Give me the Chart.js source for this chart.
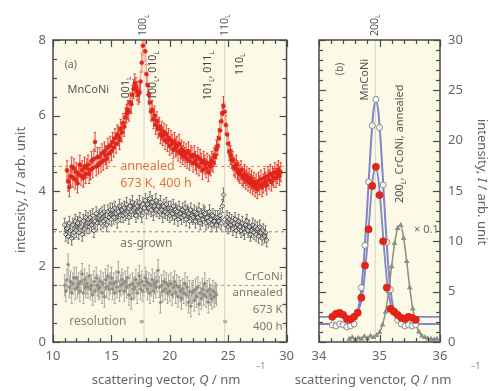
<!DOCTYPE html>
<html>
<head>
<meta charset="utf-8">
<script src="https://cdn.jsdelivr.net/npm/chart.js@4.4.1/dist/chart.umd.min.js"></script>
<style>
  html, body { margin: 0; padding: 0; background: #ffffff; }
  #wrap { position: relative; width: 489px; height: 391px; overflow: hidden; }
  .pane { position: absolute; top: 0; height: 391px; }
  #pa { left: 0; width: 300px; }
  #pb { left: 260px; width: 229px; }
</style>
</head>
<body>
<div id="wrap">
  <div class="pane" id="pa"><canvas id="ca"></canvas></div>
  <div class="pane" id="pb"><canvas id="cb"></canvas></div>
</div>
<script>
// ---------- panel (a): diffuse scattering, Q = 10 ... 30 nm^-1 ----------
const annealedQ = [
  11.2,11.3,11.4,11.5,11.6,11.7,11.8,11.9,
  12.0,12.1,12.2,12.3,12.4,12.5,12.6,12.7,12.8,12.9,
  13.0,13.1,13.2,13.3,13.4,13.5,13.6,13.7,13.8,13.9,
  14.0,14.1,14.2,14.3,14.4,14.5,14.6,14.7,14.8,14.9,
  15.0,15.1,15.2,15.3,15.4,15.5,15.6,15.7,15.8,15.9,
  16.0,16.1,16.2,16.3,16.4,16.5,16.6,16.7,16.8,16.9,
  17.0,17.1,17.2,17.3,17.4,17.5,17.6,17.7,17.8,17.9,
  18.0,18.1,18.2,18.3,18.4,18.5,18.6,18.7,18.8,18.9,
  19.0,19.1,19.2,19.3,19.4,19.5,19.6,19.7,19.8,19.9,
  20.0,20.1,20.2,20.3,20.4,20.5,20.6,20.7,20.8,20.9,
  21.0,21.1,21.2,21.3,21.4,21.5,21.6,21.7,21.8,21.9,
  22.0,22.1,22.2,22.3,22.4,22.5,22.6,22.7,22.8,22.9,
  23.0,23.1,23.2,23.3,23.4,23.5,23.6,23.7,23.8,23.9,
  24.0,24.1,24.2,24.3,24.4,24.5,24.6,24.7,24.8,24.9,
  25.0,25.1,25.2,25.3,25.4,25.5,25.6,25.7,25.8,25.9,
  26.0,26.1,26.2,26.3,26.4,26.5,26.6,26.7,26.8,26.9,
  27.0,27.1,27.2,27.3,27.4,27.5,27.6,27.7,27.8,27.9,
  28.0,28.1,28.2,28.3,28.4,28.5,28.6,28.7,28.8,28.9,
  29.0,29.1,29.2,29.3,29.4,29.5];
const annealedI = [
  4.55,4.25,4.10,4.40,4.65,4.35,4.60,4.30,
  4.50,4.20,4.45,4.70,4.40,4.55,4.35,4.65,4.45,4.60,
  4.70,4.45,4.55,4.80,4.60,4.85,5.30,4.65,4.90,4.70,
  4.90,4.75,5.00,4.80,5.05,4.95,4.85,5.15,5.00,5.20,
  5.05,5.30,5.15,5.40,5.25,5.50,5.45,5.35,5.65,5.55,
  5.80,5.70,5.95,6.05,6.15,6.10,6.35,6.30,6.55,6.70,
  6.85,6.75,6.65,6.55,6.60,6.90,7.40,7.85,8.30,7.70,
  7.10,6.80,6.55,6.35,6.10,6.15,5.90,6.00,5.75,5.85,
  5.65,5.70,5.50,5.60,5.45,5.55,5.35,5.50,5.30,5.40,
  5.20,5.35,5.25,5.10,5.30,5.15,5.20,5.05,5.25,5.00,
  5.10,4.95,5.05,4.90,5.00,4.85,5.05,4.80,4.95,4.90,
  4.75,4.95,4.80,4.70,4.90,4.65,4.85,4.75,4.55,4.80,
  4.70,4.60,4.75,4.50,4.70,4.65,4.80,4.75,4.90,4.95,
  5.10,5.20,5.40,5.60,5.85,6.05,6.25,6.10,5.75,5.50,
  5.25,5.05,4.95,4.85,4.80,4.65,4.60,4.70,4.55,4.50,
  4.45,4.55,4.40,4.35,4.45,4.30,4.40,4.25,4.35,4.20,
  4.30,4.15,4.25,4.10,4.20,4.05,4.25,4.15,4.30,4.10,
  4.20,4.35,4.25,4.15,4.40,4.30,4.45,4.25,4.40,4.35,
  4.50,4.35,4.45,4.55,4.40,4.50];
const annealedErr = 0.25;

const annealedFitQ = [11.2,12,13,14,15,15.6,16,16.4,16.8,17.0,17.3,17.55,17.8,18.05,18.3,18.6,19,19.6,20.4,21.2,
  22,22.8,23.4,23.8,24.1,24.4,24.6,24.8,25.1,25.4,25.8,26.4,27,27.6,28.2,28.8,29.5];
const annealedFitI = [4.45,4.45,4.6,4.85,5.15,5.45,5.75,6.1,6.5,6.7,6.75,7.2,8.1,7.0,6.35,5.95,5.65,5.4,5.15,4.95,
  4.8,4.68,4.68,4.85,5.15,5.75,6.15,5.75,5.05,4.75,4.55,4.4,4.28,4.22,4.28,4.38,4.45];

const asGrownQ = [
  11.0,11.1,11.2,11.3,11.4,11.5,11.6,11.7,11.8,11.9,
  12.0,12.1,12.2,12.3,12.4,12.5,12.6,12.7,12.8,12.9,
  13.0,13.1,13.2,13.3,13.4,13.5,13.6,13.7,13.8,13.9,
  14.0,14.1,14.2,14.3,14.4,14.5,14.6,14.7,14.8,14.9,
  15.0,15.1,15.2,15.3,15.4,15.5,15.6,15.7,15.8,15.9,
  16.0,16.1,16.2,16.3,16.4,16.5,16.6,16.7,16.8,16.9,
  17.0,17.1,17.2,17.3,17.4,17.5,17.6,17.7,17.8,17.9,
  18.0,18.1,18.2,18.3,18.4,18.5,18.6,18.7,18.8,18.9,
  19.0,19.1,19.2,19.3,19.4,19.5,19.6,19.7,19.8,19.9,
  20.0,20.1,20.2,20.3,20.4,20.5,20.6,20.7,20.8,20.9,
  21.0,21.1,21.2,21.3,21.4,21.5,21.6,21.7,21.8,21.9,
  22.0,22.1,22.2,22.3,22.4,22.5,22.6,22.7,22.8,22.9,
  23.0,23.1,23.2,23.3,23.4,23.5,23.6,23.7,23.8,23.9,
  24.0,24.1,24.2,24.3,24.4,24.5,24.6,24.7,24.8,24.9,
  25.0,25.1,25.2,25.3,25.4,25.5,25.6,25.7,25.8,25.9,
  26.0,26.1,26.2,26.3,26.4,26.5,26.6,26.7,26.8,26.9,
  27.0,27.1,27.2,27.3,27.4,27.5,27.6,27.7,27.8,27.9,
  28.0,28.1,28.2,28.3];
const asGrownI = [
  3.10,2.85,3.00,2.80,3.15,2.95,2.75,3.10,2.90,3.20,
  2.95,3.15,2.90,3.25,3.05,2.85,3.20,3.00,3.30,3.05,
  3.25,3.05,3.30,3.10,3.35,2.95,3.20,3.40,3.15,3.30,
  3.35,3.15,3.40,3.20,3.45,3.25,3.10,3.45,3.30,3.50,
  3.25,3.50,3.30,3.55,3.40,3.20,3.45,3.60,3.35,3.50,
  3.35,3.55,3.40,3.65,3.45,3.30,3.60,3.45,3.70,3.50,
  3.55,3.35,3.60,3.45,3.70,3.50,3.35,3.65,3.55,3.75,
  3.45,3.65,3.55,3.80,3.50,3.70,3.40,3.60,3.75,3.50,
  3.60,3.45,3.70,3.50,3.35,3.60,3.45,3.65,3.40,3.55,
  3.35,3.55,3.40,3.60,3.30,3.50,3.45,3.25,3.55,3.40,
  3.30,3.50,3.35,3.55,3.25,3.45,3.40,3.20,3.50,3.35,
  3.30,3.45,3.20,3.40,3.30,3.50,3.15,3.35,3.25,3.45,
  3.40,3.15,3.30,3.20,3.45,3.25,3.10,3.35,3.20,3.30,
  3.10,3.30,3.20,3.35,3.15,3.60,3.90,3.25,3.10,3.30,
  3.05,3.25,3.10,3.20,3.00,3.15,3.25,2.95,3.10,3.20,
  3.05,2.95,3.15,3.00,2.90,3.10,3.20,2.95,3.05,2.85,
  2.95,3.10,2.90,3.05,2.85,3.00,2.80,3.05,2.90,2.75,
  2.95,2.80,2.90,2.70];
const asGrownErr = 0.18;

const crconiQ = [
  11.0,11.1,11.2,11.3,11.4,11.5,11.6,11.7,11.8,11.9,
  12.0,12.1,12.2,12.3,12.4,12.5,12.6,12.7,12.8,12.9,
  13.0,13.1,13.2,13.3,13.4,13.5,13.6,13.7,13.8,13.9,
  14.0,14.1,14.2,14.3,14.4,14.5,14.6,14.7,14.8,14.9,
  15.0,15.1,15.2,15.3,15.4,15.5,15.6,15.7,15.8,15.9,
  16.0,16.1,16.2,16.3,16.4,16.5,16.6,16.7,16.8,16.9,
  17.0,17.1,17.2,17.3,17.4,17.5,17.6,17.7,17.8,17.9,
  18.0,18.1,18.2,18.3,18.4,18.5,18.6,18.7,18.8,18.9,
  19.0,19.1,19.2,19.3,19.4,19.5,19.6,19.7,19.8,19.9,
  20.0,20.1,20.2,20.3,20.4,20.5,20.6,20.7,20.8,20.9,
  21.0,21.1,21.2,21.3,21.4,21.5,21.6,21.7,21.8,21.9,
  22.0,22.1,22.2,22.3,22.4,22.5,22.6,22.7,22.8,22.9,
  23.0,23.1,23.2,23.3,23.4,23.5,23.6,23.7,23.8,23.9,
  24.0];
const crconiI = [
  1.50,1.35,1.65,2.05,1.45,1.60,1.30,1.55,1.70,1.40,
  1.70,1.45,1.55,1.35,1.60,1.80,1.30,1.65,1.45,1.55,
  1.45,1.75,1.40,1.50,1.25,1.60,1.35,1.70,1.50,1.40,
  1.45,1.60,1.30,1.55,1.20,1.65,1.45,1.75,1.40,1.55,
  1.70,1.40,1.55,1.30,1.60,1.45,1.85,1.35,1.50,1.65,
  1.55,1.35,1.60,1.45,1.70,1.25,1.50,1.15,1.55,1.40,
  1.45,1.65,1.30,1.55,1.75,1.40,1.60,1.35,1.50,1.70,
  1.60,1.40,1.55,1.30,1.50,1.65,1.35,1.55,1.45,1.60,
  1.90,1.45,1.05,1.50,1.35,1.60,1.40,1.55,1.30,1.50,
  1.35,1.55,1.25,1.45,1.60,1.30,1.50,1.20,1.45,1.35,
  1.15,1.40,1.30,1.55,1.25,1.45,1.05,1.35,0.95,1.30,
  1.35,1.10,1.40,1.20,1.45,1.00,1.30,1.15,1.40,1.25,
  1.55,1.20,1.35,1.05,1.40,1.25,1.15,1.35,1.20,1.30,
  1.25];
const crconiErr = 0.28;

// flat background levels: annealed, as-grown, CrCoNi
const backgroundA = [4.65, 2.92, 1.5];
// superlattice positions 100_L and 110_L
const peakQA = [17.8, 24.7];
// instrumental resolution marks
const resolutionQ = [17.6, 24.75];
const resolutionI = [0.54, 0.54];
const resolutionHalfWidth = 0.13;

// ---------- panel (b): fundamental 200 reflection ----------
const peakQB = [
  34.22,34.28,34.34,34.40,34.46,34.52,34.58,34.64,34.70,34.76,34.82,34.88,
  34.94,35.00,35.06,35.12,35.18,35.24,35.30,35.36,35.42,35.48,35.54,35.60];
const asGrownB = [
  1.7,1.6,1.8,1.7,1.5,1.6,1.8,3.0,5.4,9.6,15.9,21.5,
  24.1,21.3,15.6,9.9,5.2,3.1,2.2,1.8,1.6,1.7,1.6,1.7];
const annealedB = [
  2.5,2.8,2.9,2.7,2.3,2.25,2.5,2.9,4.4,7.6,11.2,15.5,
  17.4,14.6,10.0,5.4,3.3,3.0,2.7,2.4,2.3,2.5,2.4,2.2];

const fitQB = [34.0,34.5,34.6,34.65,34.7,34.75,34.8,34.85,34.9,34.94,34.98,35.03,35.08,35.13,35.18,35.23,35.28,35.38,36.0];
const fitAsGrownB = [1.8,1.85,2.35,3.3,5.3,8.8,13.7,18.9,22.9,24.0,22.9,18.9,13.7,8.8,5.3,3.3,2.35,1.85,1.8];
const fitAnnealedB = [2.5,2.5,2.66,3.08,4.14,6.28,9.69,13.66,16.69,17.4,16.24,12.89,8.93,5.75,3.85,2.96,2.63,2.5,2.5];

// CrCoNi annealed, scaled by 0.1
const crconiQB = [
  34.50,34.55,34.60,34.65,34.70,34.75,34.80,34.85,34.90,34.95,
  35.00,35.05,35.10,35.15,35.20,35.25,35.30,35.35,35.40,35.45,
  35.50,35.55,35.60,35.65,35.70,35.75,35.80,35.85,35.90,35.95];
const crconiB = [
  0.30,0.45,0.25,0.40,0.30,0.55,0.35,0.60,0.45,0.65,
  0.95,1.70,3.00,5.00,7.50,9.80,11.30,11.60,10.30,8.00,
  5.40,3.30,1.90,1.00,0.60,0.45,0.35,0.30,0.25,0.30];
const peakQBLine = [34.93];

// ---------- helpers ----------
const FONT = '"Noto Sans", "Open Sans", "DejaVu Sans", sans-serif';
const CREAM = '#fcf9e7';
const pts = (xs, ys) => xs.map((x, i) => ({ x, y: ys[i] }));
const hline = (y, x0, x1) => [{ x: x0, y }, { x: x1, y }];
const vline = (x, y0, y1) => [{ x, y: y0 }, { x, y: y1 }];

function parseRich(s) {
  const out = []; let i = 0, buf = '', it = false;
  const flush = () => { if (buf) { out.push({ t: buf, it }); buf = ''; } };
  while (i < s.length) {
    const c = s[i];
    if ((c === '_' || c === '^') && s[i + 1] === '{') {
      flush();
      const j = s.indexOf('}', i);
      out.push({ t: s.slice(i + 2, j), sub: c === '_', sup: c === '^', it });
      i = j + 1; continue;
    }
    if (c === '*') { flush(); it = !it; i++; continue; }
    buf += c; i++;
  }
  flush();
  return out;
}

function drawRich(ctx, text, x, y, o) {
  const size = o.size || 11, rot = (o.rot || 0) * Math.PI / 180;
  const parts = parseRich(text);
  ctx.save();
  ctx.translate(x, y);
  ctx.rotate(rot);
  let w = 0;
  const segs = parts.map(p => {
    const s = (p.sub || p.sup) ? size * 0.68 : size;
    const font = (p.it ? 'italic ' : '') + s + 'px ' + FONT;
    ctx.font = font;
    const m = ctx.measureText(p.t).width;
    w += m;
    return { p, font, m };
  });
  let cx = o.align === 'center' ? -w / 2 : o.align === 'right' ? -w : 0;
  if (o.box) {
    ctx.fillStyle = o.box;
    ctx.fillRect(cx - 2, -size * 0.6, w + 4, size * 1.2);
  }
  ctx.fillStyle = o.color || '#444';
  ctx.textBaseline = 'middle';
  ctx.textAlign = 'left';
  segs.forEach(({ p, font, m }) => {
    ctx.font = font;
    const dy = p.sub ? size * 0.3 : p.sup ? -size * 0.4 : 0;
    ctx.fillText(p.t, cx, dy);
    cx += m;
  });
  ctx.restore();
}

// cream plot area, frame and inward ticks on all four sides
const framePlugin = {
  id: 'frame',
  beforeDraw(chart, args, o) {
    const { ctx, chartArea: a } = chart;
    ctx.save();
    ctx.fillStyle = CREAM;
    ctx.fillRect(a.left, a.top, a.right - a.left, a.bottom - a.top);
    ctx.restore();
  },
  afterDraw(chart, args, o) {
    const { ctx, chartArea: a, scales } = chart;
    const xs = scales.x, ys = scales.y;
    ctx.save();
    ctx.strokeStyle = '#4a4a4a';
    ctx.lineWidth = 1.2;
    const seg = (x1, y1, x2, y2) => { ctx.beginPath(); ctx.moveTo(x1, y1); ctx.lineTo(x2, y2); ctx.stroke(); };
    const isMajor = (v, step) => Math.abs(v / step - Math.round(v / step)) < 1e-6;
    let n = Math.round((xs.max - xs.min) / o.xMinor);
    for (let i = 0; i <= n; i++) {
      const v = xs.min + i * o.xMinor;
      const len = isMajor(v, o.xMajor) ? 7 : 4;
      const px = Math.round(xs.getPixelForValue(v)) + 0.5;
      seg(px, a.bottom, px, a.bottom - len);
      seg(px, a.top, px, a.top + len);
    }
    n = Math.round((ys.max - ys.min) / o.yMinor);
    for (let i = 0; i <= n; i++) {
      const v = ys.min + i * o.yMinor;
      const len = isMajor(v, o.yMajor) ? 7 : 4;
      const py = Math.round(ys.getPixelForValue(v)) + 0.5;
      seg(a.left, py, a.left + len, py);
      seg(a.right, py, a.right - len, py);
    }
    ctx.lineWidth = 1.5;
    ctx.strokeRect(a.left, a.top, a.right - a.left, a.bottom - a.top);
    ctx.restore();
  }
};

// vertical / horizontal error bars, clipped to the plot area
const errorBarPlugin = {
  id: 'errbars',
  beforeDatasetsDraw(chart) {
    const { ctx, chartArea: a } = chart;
    ctx.save();
    ctx.beginPath();
    ctx.rect(a.left, a.top, a.right - a.left, a.bottom - a.top);
    ctx.clip();
    chart.data.datasets.forEach((ds, di) => {
      if (!ds.errY && !ds.errX) return;
      const meta = chart.getDatasetMeta(di);
      const xs = chart.scales[meta.xAxisID], ys = chart.scales[meta.yAxisID];
      ctx.strokeStyle = ds.errColor;
      ctx.lineWidth = ds.errWidth || 1;
      ds.data.forEach(p => {
        const px = xs.getPixelForValue(p.x), py = ys.getPixelForValue(p.y);
        ctx.beginPath();
        if (ds.errY) {
          const y1 = ys.getPixelForValue(p.y - ds.errY), y2 = ys.getPixelForValue(p.y + ds.errY);
          ctx.moveTo(px, y1); ctx.lineTo(px, y2);
          ctx.moveTo(px - 1.2, y1); ctx.lineTo(px + 1.2, y1);
          ctx.moveTo(px - 1.2, y2); ctx.lineTo(px + 1.2, y2);
        }
        if (ds.errX) {
          const x1 = xs.getPixelForValue(p.x - ds.errX), x2 = xs.getPixelForValue(p.x + ds.errX);
          ctx.moveTo(x1, py); ctx.lineTo(x2, py);
          ctx.moveTo(x1, py - 1.5); ctx.lineTo(x1, py + 1.5);
          ctx.moveTo(x2, py - 1.5); ctx.lineTo(x2, py + 1.5);
        }
        ctx.stroke();
      });
    });
    ctx.restore();
  }
};

// text: in-plot notes in data units, titles in canvas pixels
const notesPlugin = {
  id: 'notes',
  afterDraw(chart, args, o) {
    const { ctx, chartArea: a, scales } = chart;
    (o.items || []).forEach(it => {
      let x, y;
      if (it.px !== undefined) { x = it.px; y = it.py; }
      else {
        x = scales.x.getPixelForValue(it.q);
        y = it.top !== undefined ? a.top + it.top : scales.y.getPixelForValue(it.i);
      }
      drawRich(ctx, it.text, x, y, it);
    });
  }
};

Chart.register(framePlugin, errorBarPlugin, notesPlugin);

const tickFont = { family: FONT, size: 13 };
const baseOpts = {
  responsive: true,
  maintainAspectRatio: false,
  animation: false,
  devicePixelRatio: 1,
  events: []
};

// ---------- panel (a) ----------
new Chart(document.getElementById('ca'), {
  type: 'scatter',
  data: {
    datasets: [
      { data: pts(annealedQ, annealedI), pointStyle: 'circle', pointRadius: 2.0, pointBackgroundColor: '#e6261b',
        pointBorderColor: '#d41e12', pointBorderWidth: 0.5, errY: annealedErr, errColor: 'rgba(228,38,26,0.85)', order: 1, clip: 0 },
      { data: pts(asGrownQ, asGrownI), pointStyle: 'rectRot', pointRadius: 2.4, pointBackgroundColor: 'rgba(255,255,255,0.5)',
        pointBorderColor: '#333', pointBorderWidth: 0.8, errY: asGrownErr, errColor: '#5a5a5a', errWidth: 0.8, order: 2, clip: 0 },
      { data: pts(crconiQ, crconiI), pointStyle: 'rectRot', pointRadius: 1.9, pointBackgroundColor: '#8e8e84',
        pointBorderColor: '#8e8e84', pointBorderWidth: 0.5, errY: crconiErr, errColor: '#a0a096', errWidth: 0.9, order: 3, clip: 0 },
      { data: pts(resolutionQ, resolutionI), pointStyle: 'circle', pointRadius: 1.4, pointBackgroundColor: '#b0b0a8',
        pointBorderColor: '#b0b0a8', errX: resolutionHalfWidth, errColor: '#b8b8b0', order: 3, clip: 0 },
      { data: pts(annealedFitQ, annealedFitI), showLine: true, borderColor: '#f6b39c', borderWidth: 1.5, pointRadius: 0,
        cubicInterpolationMode: 'monotone', order: 4, clip: 0 },
      { data: hline(backgroundA[0], 10, 30), showLine: true, borderColor: '#ef7a64', borderWidth: 1, borderDash: [3, 3], pointRadius: 0, order: 8 },
      { data: hline(backgroundA[1], 10, 30), showLine: true, borderColor: '#8c8c8c', borderWidth: 1, borderDash: [3, 3], pointRadius: 0, order: 8 },
      { data: hline(backgroundA[2], 10, 30), showLine: true, borderColor: '#9a9a9a', borderWidth: 1, borderDash: [3, 3], pointRadius: 0, order: 8 },
      { data: vline(peakQA[0], 0, 8), showLine: true, borderColor: '#d4d4ca', borderWidth: 1, pointRadius: 0, order: 9 },
      { data: vline(peakQA[1], 0, 8), showLine: true, borderColor: '#d4d4ca', borderWidth: 1, pointRadius: 0, order: 9 }
    ]
  },
  options: {
    ...baseOpts,
    layout: { padding: { top: 40, right: 7, left: 0, bottom: 0 } },
    scales: {
      x: { type: 'linear', min: 10, max: 30,
        ticks: { stepSize: 5, font: tickFont, color: '#666', padding: 6, maxRotation: 0 },
        grid: { display: false, drawTicks: false }, border: { display: false },
        afterFit(s) { s.height = 49; } },
      y: { type: 'linear', min: 0, max: 8,
        ticks: { stepSize: 2, font: tickFont, color: '#666', padding: 7 },
        grid: { display: false, drawTicks: false }, border: { display: false },
        afterFit(s) { s.width = 53; } }
    },
    plugins: {
      legend: { display: false },
      tooltip: { enabled: false },
      frame: { xMinor: 1, xMajor: 5, yMinor: 0.5, yMajor: 2 },
      notes: { items: [
        { text: '100_{L}', q: 17.75, top: -4, rot: -90, align: 'left', size: 10.5, color: '#555' },
        { text: '110_{L}', q: 24.7, top: -4, rot: -90, align: 'left', size: 10.5, color: '#555' },
        { text: '001_{L}', q: 16.25, i: 6.46, rot: -90, align: 'left', size: 10.5, color: '#444' },
        { text: '100_{L}, 010_{L}', q: 18.6, i: 6.41, rot: -90, align: 'left', size: 10.5, color: '#444' },
        { text: '101_{L}, 011_{L}', q: 23.3, i: 6.41, rot: -90, align: 'left', size: 10.5, color: '#444' },
        { text: '110_{L}', q: 26.0, i: 7.07, rot: -90, align: 'left', size: 10.5, color: '#444' },
        { text: '(a)', q: 11.0, i: 7.34, align: 'left', size: 10.5, color: '#666' },
        { text: 'MnCoNi', q: 11.25, i: 6.68, align: 'left', size: 11, color: '#555' },
        { text: 'annealed', q: 15.75, i: 4.64, align: 'left', size: 12.5, color: '#e8703c', box: CREAM },
        { text: '673 K, 400 h', q: 15.75, i: 4.21, align: 'left', size: 12.5, color: '#e8703c' },
        { text: 'as-grown', q: 15.75, i: 2.62, align: 'left', size: 12, color: '#7a7a72' },
        { text: 'resolution', q: 11.4, i: 0.53, align: 'left', size: 12, color: '#85857d' },
        { text: 'CrCoNi', q: 29.67, i: 1.72, align: 'right', size: 11.5, color: '#7a7a72', box: CREAM },
        { text: 'annealed', q: 29.67, i: 1.30, align: 'right', size: 11.5, color: '#7a7a72', box: CREAM },
        { text: '673 K', q: 29.67, i: 0.85, align: 'right', size: 11.5, color: '#7a7a72' },
        { text: '400 h', q: 29.67, i: 0.40, align: 'right', size: 11.5, color: '#7a7a72' },
        { text: 'intensity, *I* / arb. unit', px: 21, py: 190, rot: -90, align: 'center', size: 13, color: '#666' },
        { text: 'scattering vector, *Q* / nm', px: 166, py: 380, align: 'center', size: 13, color: '#666' },
        { text: '−1', px: 256, py: 367, align: 'left', size: 8, color: '#777' }
      ] }
    }
  }
});

// ---------- panel (b) ----------
new Chart(document.getElementById('cb'), {
  type: 'scatter',
  data: {
    datasets: [
      { data: pts(peakQB, annealedB), pointStyle: 'circle', pointRadius: 3.6, pointBackgroundColor: '#e8241a',
        pointBorderColor: '#d01a10', pointBorderWidth: 0.6, order: 0, clip: 0 },
      { data: pts(peakQB, asGrownB), pointStyle: 'circle', pointRadius: 3, pointBackgroundColor: 'rgba(255,255,250,0.9)',
        pointBorderColor: '#8a8a86', pointBorderWidth: 1, order: 1, clip: 0 },
      { data: pts(crconiQB, crconiB), showLine: true, borderColor: '#8c8c88', borderWidth: 1.5, pointStyle: 'triangle',
        pointRadius: 1.8, pointBackgroundColor: '#8c8c88', pointBorderColor: '#8c8c88',
        cubicInterpolationMode: 'monotone', order: 3, clip: 0 },
      { data: pts(fitQB, fitAsGrownB), showLine: true, borderColor: '#8086c6', borderWidth: 2, pointRadius: 0,
        cubicInterpolationMode: 'monotone', order: 4, clip: 0 },
      { data: pts(fitQB, fitAnnealedB), showLine: true, borderColor: '#8086c6', borderWidth: 1.8, pointRadius: 0,
        cubicInterpolationMode: 'monotone', order: 4, clip: 0 },
      { data: vline(peakQBLine[0], 0, 30), showLine: true, borderColor: '#d4d4ca', borderWidth: 1, pointRadius: 0, order: 9 }
    ]
  },
  options: {
    ...baseOpts,
    layout: { padding: { top: 40, right: 0, left: 59, bottom: 0 } },
    scales: {
      x: { type: 'linear', min: 34, max: 36,
        ticks: { stepSize: 1, font: tickFont, color: '#666', padding: 6, maxRotation: 0 },
        grid: { display: false, drawTicks: false }, border: { display: false },
        afterFit(s) { s.height = 49; } },
      y: { type: 'linear', position: 'right', min: 0, max: 30,
        ticks: { stepSize: 5, font: tickFont, color: '#666', padding: 8 },
        grid: { display: false, drawTicks: false }, border: { display: false },
        afterFit(s) { s.width = 49; } }
    },
    plugins: {
      legend: { display: false },
      tooltip: { enabled: false },
      frame: { xMinor: 0.2, xMajor: 1, yMinor: 1, yMajor: 5 },
      notes: { items: [
        { text: '200_{L}', q: 34.93, top: -4, rot: -90, align: 'left', size: 10.5, color: '#555' },
        { text: '(b)', q: 34.35, i: 26.5, rot: -90, align: 'left', size: 10.5, color: '#666' },
        { text: 'MnCoNi', q: 34.76, i: 24.0, rot: -90, align: 'left', size: 11, color: '#555' },
        { text: '200_{L}, CrCoNi, annealed', q: 35.34, i: 13.8, rot: -90, align: 'left', size: 11, color: '#555' },
        { text: '× 0.1', q: 35.57, i: 11.1, align: 'left', size: 11, color: '#666' },
        { text: 'intensity, *I* / arb. unit', px: 222, py: 182, rot: 90, align: 'center', size: 13, color: '#666' },
        { text: 'scattering venctor, *Q* / nm', px: 113, py: 380, align: 'center', size: 13, color: '#666' },
        { text: '−1', px: 211, py: 367, align: 'left', size: 8, color: '#777' }
      ] }
    }
  }
});
</script>
</body>
</html>
